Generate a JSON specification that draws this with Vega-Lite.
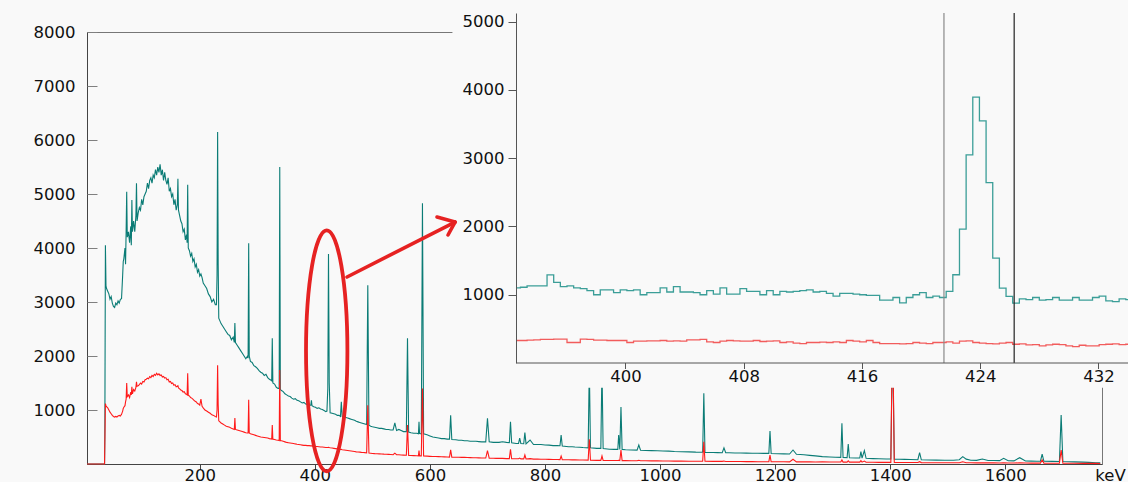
{
  "$schema": "https://vega.github.io/schema/vega-lite/v6.json",
  "width": 1015,
  "height": 432,
  "autosize": {"type": "none"},
  "padding": {"left": 87, "top": 32, "right": 26, "bottom": 18},
  "background": "#f9f9f9",
  "config": {
    "view": {"stroke": "#777777", "strokeWidth": 1},
    "axis": {"labelFont": "DejaVu Sans", "labelFontSize": 16.5, "labelColor": "#111111", "domainColor": "#555555", "tickColor": "#555555", "grid": false, "labelOverlap": false, "labelFlush": false, "format": "d"}
  },
  "datasets": {
    "main": [
      {"e":4,"t":0,"r":0},{"e":34.5,"t":0,"r":0},{"e":35,"t":500,"r":400},{"e":36,"t":4050,"r":1120},{"e":37,"t":3300,"r":1080},
      {"e":38,"t":3250,"r":1060},{"e":40,"t":3200,"r":1040},{"e":42,"t":3150,"r":1000},{"e":44,"t":3050,"r":960},{"e":46,"t":3100,"r":930},
      {"e":48,"t":2980,"r":900},{"e":50,"t":2920,"r":880},{"e":52,"t":2900,"r":870},{"e":54,"t":2980,"r":880},{"e":56,"t":2950,"r":870},
      {"e":58,"t":3020,"r":890},{"e":60,"t":2980,"r":900},{"e":62,"t":3050,"r":890},{"e":64,"t":3060,"r":920},{"e":66,"t":3500,"r":980},
      {"e":67,"t":3750,"r":1030},{"e":68,"t":3800,"r":1050},{"e":70,"t":4000,"r":1080},{"e":71,"t":3700,"r":1150},{"e":72,"t":4300,"r":1200},
      {"e":73,"t":5040,"r":1500},{"e":74,"t":4200,"r":1250},{"e":76,"t":4300,"r":1280},{"e":78,"t":4100,"r":1230},{"e":80,"t":4400,"r":1330},
      {"e":81,"t":4050,"r":1280},{"e":82,"t":4890,"r":1430},{"e":83,"t":4300,"r":1300},{"e":85,"t":4500,"r":1380},{"e":87,"t":4300,"r":1350},
      {"e":89,"t":4600,"r":1420},{"e":90,"t":5200,"r":1520},{"e":91,"t":4500,"r":1440},{"e":93,"t":4650,"r":1450},{"e":95,"t":4750,"r":1470},
      {"e":97,"t":4700,"r":1500},{"e":99,"t":4900,"r":1480},{"e":101,"t":4800,"r":1530},{"e":103,"t":4950,"r":1520},{"e":105,"t":5000,"r":1560},
      {"e":107,"t":5050,"r":1570},{"e":109,"t":5200,"r":1590},{"e":111,"t":5100,"r":1580},{"e":113,"t":5250,"r":1620},{"e":115,"t":5300,"r":1600},
      {"e":117,"t":5200,"r":1640},{"e":119,"t":5350,"r":1620},{"e":121,"t":5300,"r":1660},{"e":123,"t":5450,"r":1640},{"e":125,"t":5350,"r":1680},
      {"e":127,"t":5500,"r":1650},{"e":129,"t":5400,"r":1670},{"e":131,"t":5550,"r":1640},{"e":133,"t":5350,"r":1650},{"e":135,"t":5450,"r":1610},
      {"e":137,"t":5250,"r":1620},{"e":139,"t":5400,"r":1590},{"e":141,"t":5250,"r":1600},{"e":143,"t":5180,"r":1560},{"e":145,"t":5300,"r":1570},
      {"e":147,"t":5050,"r":1520},{"e":149,"t":5100,"r":1530},{"e":151,"t":4950,"r":1490},{"e":153,"t":5000,"r":1500},{"e":155,"t":4800,"r":1460},
      {"e":157,"t":4900,"r":1470},{"e":159,"t":4700,"r":1430},{"e":161,"t":4800,"r":1440},{"e":162,"t":5280,"r":1450},{"e":163,"t":4700,"r":1410},
      {"e":165,"t":4600,"r":1390},{"e":167,"t":4500,"r":1370},{"e":169,"t":4450,"r":1360},{"e":171,"t":4300,"r":1330},{"e":173,"t":4350,"r":1340},
      {"e":175,"t":4150,"r":1300},{"e":177,"t":4250,"r":1290},{"e":178,"t":4100,"r":1280},{"e":179,"t":5170,"r":1680},{"e":180,"t":4000,"r":1270},
      {"e":182,"t":3950,"r":1260},{"e":184,"t":3850,"r":1230},{"e":186,"t":3900,"r":1220},{"e":188,"t":3750,"r":1200},{"e":190,"t":3800,"r":1180},
      {"e":192,"t":3650,"r":1160},{"e":194,"t":3700,"r":1150},{"e":196,"t":3550,"r":1120},{"e":198,"t":3600,"r":1110},{"e":200,"t":3480,"r":1090},
      {"e":202,"t":3520,"r":1200},{"e":204,"t":3450,"r":1070},{"e":206,"t":3350,"r":1040},{"e":209,"t":3300,"r":1000},{"e":212,"t":3250,"r":980},
      {"e":215,"t":3150,"r":960},{"e":218,"t":3100,"r":940},{"e":221,"t":3000,"r":910},{"e":224,"t":3050,"r":900},{"e":227,"t":2950,"r":880},
      {"e":229,"t":2950,"r":870},{"e":230,"t":3500,"r":1000},{"e":231,"t":6150,"r":1830},{"e":232,"t":3700,"r":1100},{"e":233,"t":2700,"r":800},
      {"e":235,"t":2650,"r":780},{"e":237,"t":2600,"r":760},{"e":240,"t":2550,"r":740},{"e":243,"t":2500,"r":720},{"e":246,"t":2450,"r":700},
      {"e":249,"t":2400,"r":690},{"e":252,"t":2380,"r":680},{"e":255,"t":2300,"r":660},{"e":258,"t":2350,"r":650},{"e":260,"t":2250,"r":640},
      {"e":261,"t":2610,"r":850},{"e":262,"t":2250,"r":640},{"e":265,"t":2200,"r":630},{"e":268,"t":2150,"r":620},{"e":271,"t":2100,"r":610},
      {"e":274,"t":2050,"r":600},{"e":277,"t":2000,"r":590},{"e":280,"t":1950,"r":580},{"e":283,"t":2000,"r":575},{"e":284,"t":1960,"r":575},
      {"e":285,"t":4090,"r":1190},{"e":286,"t":2000,"r":575},{"e":288,"t":1900,"r":560},{"e":291,"t":1880,"r":550},{"e":294,"t":1820,"r":540},
      {"e":297,"t":1800,"r":530},{"e":300,"t":1770,"r":520},{"e":303,"t":1730,"r":510},{"e":306,"t":1700,"r":500},{"e":309,"t":1680,"r":495},
      {"e":312,"t":1640,"r":490},{"e":315,"t":1660,"r":485},{"e":318,"t":1600,"r":480},{"e":321,"t":1570,"r":470},{"e":324,"t":1550,"r":465},
      {"e":325,"t":1540,"r":462},{"e":326,"t":2330,"r":720},{"e":327,"t":1500,"r":460},{"e":330,"t":1480,"r":455},{"e":333,"t":1420,"r":445},
      {"e":336,"t":1400,"r":440},{"e":338,"t":1400,"r":435},{"e":339,"t":5500,"r":1740},{"e":340,"t":1380,"r":432},{"e":342,"t":1360,"r":430},
      {"e":345,"t":1340,"r":420},{"e":348,"t":1300,"r":410},{"e":351,"t":1280,"r":400},{"e":354,"t":1260,"r":395},{"e":357,"t":1250,"r":390},
      {"e":360,"t":1220,"r":385},{"e":363,"t":1200,"r":380},{"e":366,"t":1210,"r":372},{"e":369,"t":1180,"r":365},{"e":372,"t":1170,"r":360},
      {"e":375,"t":1150,"r":355},{"e":378,"t":1130,"r":350},{"e":381,"t":1140,"r":345},{"e":384,"t":1110,"r":345},{"e":387,"t":1100,"r":340},
      {"e":390,"t":1080,"r":340},{"e":393,"t":1090,"r":335},{"e":394,"t":1180,"r":335},{"e":395,"t":1080,"r":335},{"e":398,"t":1060,"r":330},
      {"e":401,"t":1050,"r":325},{"e":404,"t":1030,"r":325},{"e":407,"t":1040,"r":320},{"e":410,"t":1020,"r":315},{"e":413,"t":1010,"r":315},
      {"e":416,"t":990,"r":310},{"e":419,"t":970,"r":305},{"e":421,"t":980,"r":305},{"e":422.5,"t":1400,"r":305},{"e":423.7,"t":3890,"r":310},
      {"e":425,"t":1500,"r":305},{"e":426.5,"t":950,"r":300},{"e":430,"t":940,"r":295},{"e":433,"t":930,"r":290},{"e":436,"t":920,"r":285},
      {"e":439,"t":900,"r":280},{"e":442,"t":900,"r":275},{"e":444.5,"t":880,"r":270},{"e":446,"t":1150,"r":270},{"e":447.5,"t":880,"r":265},
      {"e":451,"t":870,"r":260},{"e":454,"t":860,"r":255},{"e":457,"t":850,"r":250},{"e":460,"t":840,"r":245},{"e":463,"t":830,"r":240},
      {"e":466,"t":820,"r":235},{"e":469,"t":810,"r":230},{"e":472,"t":790,"r":225},{"e":475,"t":780,"r":222},{"e":478,"t":770,"r":220},
      {"e":481,"t":760,"r":215},{"e":484,"t":750,"r":212},{"e":487,"t":740,"r":210},{"e":490,"t":730,"r":205},{"e":492,"t":3310,"r":1090},
      {"e":494,"t":720,"r":205},{"e":497,"t":700,"r":200},{"e":500,"t":690,"r":195},{"e":504,"t":680,"r":192},{"e":508,"t":670,"r":190},
      {"e":512,"t":660,"r":188},{"e":516,"t":660,"r":185},{"e":520,"t":650,"r":182},{"e":524,"t":640,"r":180},{"e":528,"t":640,"r":178},
      {"e":532,"t":630,"r":175},{"e":536,"t":630,"r":172},{"e":539,"t":760,"r":200},{"e":542,"t":620,"r":172},{"e":546,"t":640,"r":170},
      {"e":550,"t":620,"r":168},{"e":554,"t":600,"r":165},{"e":559,"t":600,"r":162},{"e":561,"t":2330,"r":720},{"e":563,"t":590,"r":160},
      {"e":567,"t":580,"r":158},{"e":572,"t":570,"r":155},{"e":577,"t":570,"r":152},{"e":580,"t":560,"r":150},{"e":581,"t":780,"r":250},
      {"e":582,"t":565,"r":150},{"e":585,"t":560,"r":150},{"e":587,"t":4830,"r":1400},{"e":589,"t":560,"r":148},{"e":595,"t":540,"r":145},
      {"e":600,"t":520,"r":142},{"e":605,"t":500,"r":140},{"e":610,"t":490,"r":138},{"e":615,"t":480,"r":136},{"e":620,"t":470,"r":134},
      {"e":625,"t":470,"r":132},{"e":630,"t":460,"r":130},{"e":634,"t":460,"r":128},{"e":636,"t":900,"r":260},{"e":638,"t":455,"r":128},
      {"e":645,"t":450,"r":126},{"e":650,"t":440,"r":124},{"e":655,"t":440,"r":123},{"e":660,"t":430,"r":122},{"e":665,"t":430,"r":120},
      {"e":670,"t":420,"r":118},{"e":675,"t":420,"r":116},{"e":680,"t":420,"r":115},{"e":685,"t":415,"r":113},{"e":690,"t":410,"r":112},
      {"e":697,"t":410,"r":110},{"e":700,"t":846,"r":246},{"e":703,"t":410,"r":108},{"e":710,"t":400,"r":106},{"e":715,"t":400,"r":105},
      {"e":720,"t":400,"r":104},{"e":726,"t":413,"r":105},{"e":733,"t":400,"r":100},{"e":738,"t":395,"r":99},{"e":740,"t":783,"r":272},
      {"e":742,"t":392,"r":98},{"e":750,"t":380,"r":96},{"e":754,"t":380,"r":96},{"e":756,"t":480,"r":110},{"e":758,"t":380,"r":95},
      {"e":763,"t":375,"r":94},{"e":765,"t":580,"r":167},{"e":767,"t":372,"r":93},{"e":774,"t":444,"r":100},{"e":780,"t":360,"r":90},
      {"e":787,"t":360,"r":90},{"e":793,"t":360,"r":88},{"e":800,"t":352,"r":87},{"e":807,"t":350,"r":85},{"e":814,"t":340,"r":84},
      {"e":821,"t":340,"r":83},{"e":826,"t":338,"r":82},{"e":828,"t":537,"r":148},{"e":830,"t":332,"r":81},{"e":841,"t":320,"r":78},
      {"e":847,"t":320,"r":77},{"e":852,"t":315,"r":76},{"e":860,"t":310,"r":75},{"e":866,"t":305,"r":74},{"e":875,"t":300,"r":72},
      {"e":877,"t":1800,"r":457},{"e":879,"t":300,"r":70},{"e":890,"t":290,"r":68},{"e":897,"t":290,"r":68},{"e":899,"t":1800,"r":148},
      {"e":901,"t":285,"r":66},{"e":912,"t":272,"r":65},{"e":920,"t":270,"r":64},{"e":926.5,"t":270,"r":64},{"e":928,"t":537,"r":70},
      {"e":930,"t":270,"r":64},{"e":932,"t":1055,"r":259},{"e":934,"t":270,"r":63},{"e":940,"t":265,"r":62},{"e":950,"t":260,"r":61},
      {"e":960,"t":258,"r":60},{"e":963,"t":352,"r":70},{"e":966,"t":255,"r":60},{"e":975,"t":250,"r":60},{"e":985,"t":247,"r":58},
      {"e":995,"t":245,"r":58},{"e":1005,"t":240,"r":56},{"e":1015,"t":238,"r":55},{"e":1025,"t":232,"r":54},{"e":1037,"t":228,"r":53},
      {"e":1050,"t":225,"r":52},{"e":1062,"t":220,"r":51},{"e":1074,"t":218,"r":50},{"e":1076,"t":1310,"r":413},{"e":1078,"t":215,"r":50},
      {"e":1092,"t":212,"r":49},{"e":1100,"t":210,"r":48},{"e":1108,"t":209,"r":48},{"e":1111,"t":300,"r":55},{"e":1114,"t":208,"r":47},
      {"e":1120,"t":208,"r":47},{"e":1130,"t":205,"r":46},{"e":1140,"t":204,"r":45},{"e":1150,"t":202,"r":44},{"e":1160,"t":200,"r":44},
      {"e":1170,"t":198,"r":43},{"e":1180,"t":196,"r":43},{"e":1189,"t":196,"r":43},{"e":1191,"t":611,"r":167},{"e":1193,"t":195,"r":42},
      {"e":1205,"t":190,"r":42},{"e":1215,"t":188,"r":41},{"e":1225,"t":185,"r":40},{"e":1231,"t":259,"r":87},{"e":1237,"t":180,"r":40},
      {"e":1250,"t":170,"r":40},{"e":1260,"t":160,"r":39},{"e":1270,"t":150,"r":38},{"e":1282,"t":136,"r":43},{"e":1295,"t":130,"r":37},
      {"e":1305,"t":125,"r":36},{"e":1314,"t":122,"r":36},{"e":1316,"t":753,"r":74},{"e":1318,"t":120,"r":35},{"e":1325,"t":118,"r":35},
      {"e":1327,"t":370,"r":60},{"e":1329,"t":115,"r":35},{"e":1340,"t":110,"r":34},{"e":1347,"t":110,"r":34},{"e":1349,"t":228,"r":61},
      {"e":1351,"t":110,"r":34},{"e":1355,"t":247,"r":55},{"e":1358,"t":105,"r":33},{"e":1370,"t":100,"r":32},{"e":1380,"t":96,"r":31},
      {"e":1393,"t":93,"r":30},{"e":1401,"t":92,"r":30},{"e":1403,"t":1600,"r":1800},{"e":1405,"t":1600,"r":1800},{"e":1407,"t":90,"r":30},{"e":1416,"t":87,"r":29},
      {"e":1425,"t":85,"r":28},{"e":1435,"t":82,"r":28},{"e":1448,"t":80,"r":27},{"e":1451,"t":209,"r":43},{"e":1454,"t":78,"r":26},
      {"e":1467,"t":74,"r":24},{"e":1480,"t":72,"r":24},{"e":1495,"t":70,"r":23},{"e":1510,"t":70,"r":22},{"e":1520,"t":80,"r":24},
      {"e":1526,"t":136,"r":40},{"e":1532,"t":90,"r":24},{"e":1540,"t":70,"r":22},{"e":1550,"t":68,"r":21},{"e":1560,"t":93,"r":22},
      {"e":1570,"t":65,"r":20},{"e":1580,"t":64,"r":20},{"e":1590,"t":62,"r":19},{"e":1597,"t":105,"r":22},{"e":1605,"t":60,"r":19},
      {"e":1615,"t":58,"r":18},{"e":1625,"t":117,"r":22},{"e":1635,"t":56,"r":18},{"e":1645,"t":54,"r":17},{"e":1655,"t":52,"r":17},
      {"e":1661,"t":51,"r":16},{"e":1664,"t":185,"r":74},{"e":1667,"t":50,"r":16},{"e":1682,"t":48,"r":15},{"e":1694,"t":46,"r":15},
      {"e":1697,"t":907,"r":259},{"e":1700,"t":45,"r":14},{"e":1711,"t":43,"r":14},{"e":1720,"t":40,"r":13},{"e":1735,"t":35,"r":12},
      {"e":1745,"t":30,"r":12},{"e":1757,"t":24,"r":12},{"e":1765,"t":20,"r":10}
    ],
    "inset": [
      {"k":392.6,"t":1100,"r":330},{"k":392.9,"t":1110,"r":330},{"k":393.35,"t":1130,"r":335},{"k":393.8,"t":1130,"r":340},
      {"k":394.25,"t":1130,"r":345},{"k":394.7,"t":1290,"r":345},{"k":395.15,"t":1180,"r":350},{"k":395.6,"t":1120,"r":350},
      {"k":396.05,"t":1130,"r":300},{"k":396.5,"t":1100,"r":300},{"k":396.95,"t":1090,"r":350},{"k":397.4,"t":1060,"r":345},
      {"k":397.85,"t":1000,"r":335},{"k":398.3,"t":1070,"r":335},{"k":398.75,"t":1070,"r":330},{"k":399.2,"t":1030,"r":330},
      {"k":399.65,"t":1070,"r":330},{"k":400.1,"t":1060,"r":300},{"k":400.55,"t":1070,"r":320},{"k":401.0,"t":1000,"r":320},
      {"k":401.45,"t":1030,"r":325},{"k":401.9,"t":1030,"r":325},{"k":402.35,"t":1100,"r":330},{"k":402.8,"t":1040,"r":320},
      {"k":403.25,"t":1120,"r":325},{"k":403.7,"t":1040,"r":320},{"k":404.15,"t":1040,"r":340},{"k":404.6,"t":1030,"r":340},
      {"k":405.05,"t":1000,"r":345},{"k":405.5,"t":1060,"r":310},{"k":405.95,"t":1010,"r":300},{"k":406.4,"t":1100,"r":320},
      {"k":406.85,"t":1010,"r":330},{"k":407.3,"t":1010,"r":325},{"k":407.75,"t":1090,"r":320},{"k":408.2,"t":1050,"r":320},
      {"k":408.65,"t":1050,"r":330},{"k":409.1,"t":1000,"r":315},{"k":409.55,"t":1060,"r":320},{"k":410.0,"t":1000,"r":325},
      {"k":410.45,"t":1050,"r":300},{"k":410.9,"t":1040,"r":310},{"k":411.35,"t":1050,"r":290},{"k":411.8,"t":1060,"r":285},
      {"k":412.25,"t":1070,"r":300},{"k":412.7,"t":1040,"r":300},{"k":413.15,"t":1050,"r":305},{"k":413.6,"t":1020,"r":300},
      {"k":414.05,"t":980,"r":310},{"k":414.5,"t":1020,"r":300},{"k":414.95,"t":1020,"r":330},{"k":415.4,"t":1010,"r":320},
      {"k":415.85,"t":1000,"r":310},{"k":416.3,"t":990,"r":330},{"k":416.75,"t":990,"r":300},{"k":417.2,"t":920,"r":285},
      {"k":417.65,"t":920,"r":285},{"k":418.1,"t":960,"r":285},{"k":418.55,"t":880,"r":280},{"k":419.0,"t":960,"r":285},
      {"k":419.45,"t":1000,"r":300},{"k":419.9,"t":1030,"r":290},{"k":420.35,"t":960,"r":285},{"k":420.8,"t":980,"r":300},
      {"k":421.25,"t":960,"r":300},{"k":421.7,"t":1050,"r":310},{"k":422.15,"t":1293,"r":290},{"k":422.6,"t":1962,"r":320},
      {"k":423.05,"t":3050,"r":325},{"k":423.5,"t":3894,"r":300},{"k":423.95,"t":3547,"r":290},{"k":424.4,"t":2644,"r":285},
      {"k":424.85,"t":1537,"r":280},{"k":425.3,"t":1098,"r":290},{"k":425.75,"t":975,"r":300},{"k":426.2,"t":878,"r":275},
      {"k":426.65,"t":940,"r":280},{"k":427.1,"t":930,"r":265},{"k":427.55,"t":960,"r":270},{"k":428.0,"t":920,"r":250},
      {"k":428.45,"t":930,"r":265},{"k":428.9,"t":960,"r":275},{"k":429.35,"t":920,"r":270},{"k":429.8,"t":920,"r":250},
      {"k":430.25,"t":960,"r":240},{"k":430.7,"t":920,"r":260},{"k":431.15,"t":920,"r":250},{"k":431.6,"t":960,"r":250},
      {"k":432.05,"t":980,"r":270},{"k":432.5,"t":910,"r":275},{"k":432.95,"t":900,"r":280},{"k":433.4,"t":940,"r":270},
      {"k":433.85,"t":930,"r":275},{"k":434.3,"t":930,"r":275}
    ],
    "arrow": [
      {"x1":455.9,"y1":3463,"x2":643.6,"y2":4481},
      {"x1":612.3,"y1":4574,"x2":643.6,"y2":4481},
      {"x1":631.4,"y1":4241,"x2":643.6,"y2":4481}
    ]
  },
  "resolve": {"scale": {"x": "independent", "y": "independent"}, "axis": {"x": "independent", "y": "independent"}},
  "layer": [
    {
      "data": {"name": "main"},
      "mark": {"type": "line", "color": "#0b7c76", "strokeWidth": 1.1},
      "encoding": {
        "x": {"field": "e", "type": "quantitative", "scale": {"domain": [4, 1768], "nice": false, "zero": false},
          "axis": {"orient": "bottom", "values": [200, 400, 600, 800, 1000, 1200, 1400, 1600], "tickSize": 5, "labelPadding": -2, "domainColor": "#444444", "tickColor": "#444444",
            "title": "keV", "titleX": 1023, "titleY": 3, "titleAlign": "center", "titleBaseline": "top", "titleFont": "DejaVu Sans", "titleFontSize": 16.5, "titleFontWeight": "normal", "titleColor": "#111111"}},
        "y": {"field": "t", "type": "quantitative", "scale": {"domain": [0, 8000], "nice": false},
          "axis": {"orient": "left", "values": [1000, 2000, 3000, 4000, 5000, 6000, 7000, 8000], "ticks": false, "labelPadding": 12, "title": null, "domainColor": "#444444"}}
      }
    },
    {
      "data": {"name": "main"},
      "mark": {"type": "line", "color": "#ff1a1a", "strokeWidth": 1.1},
      "encoding": {
        "x": {"field": "e", "type": "quantitative", "scale": {"domain": [4, 1768], "nice": false, "zero": false}, "axis": null},
        "y": {"field": "r", "type": "quantitative", "scale": {"domain": [0, 8000], "nice": false},
          "axis": {"orient": "right", "offset": -1015, "values": [1000, 2000, 3000, 4000, 5000, 6000, 7000, 8000], "labels": false, "domain": false, "ticks": true, "tickSize": 10, "tickColor": "#808080", "title": null}}
      }
    },
    {
      "data": {"values": [{}]},
      "mark": {"type": "rect", "fill": "#f9f9f9"},
      "encoding": {
        "x": {"datum": 388.3, "type": "quantitative", "scale": {"domain": [392.6, 434], "range": [429, 1041], "nice": false, "zero": false}, "axis": null},
        "x2": {"datum": 437},
        "y": {"datum": -362, "type": "quantitative", "scale": {"domain": [0, 5128], "range": [331, -19], "nice": false, "zero": false}, "axis": null},
        "y2": {"datum": 5128}
      }
    },
    {
      "data": {"name": "inset"},
      "mark": {"type": "line", "interpolate": "step-after", "color": "#3b9e98", "strokeWidth": 1.3},
      "encoding": {
        "x": {"field": "k", "type": "quantitative", "scale": {"domain": [392.6, 434], "range": [429, 1041], "nice": false, "zero": false},
          "axis": {"orient": "bottom", "offset": -101.5, "values": [400, 408, 416, 424, 432], "tickSize": 6, "labelPadding": 0, "title": null, "zindex": 1, "domainColor": "#555555", "tickColor": "#555555"}},
        "y": {"field": "t", "type": "quantitative", "scale": {"domain": [0, 5128], "range": [331, -19], "nice": false, "zero": false},
          "axis": {"orient": "left", "offset": -429, "values": [1000, 2000, 3000, 4000, 5000], "tickSize": 8, "labelPadding": 4, "title": null, "zindex": 1, "domainColor": "#555555", "tickColor": "#555555"}}
      }
    },
    {
      "data": {"name": "inset"},
      "mark": {"type": "line", "interpolate": "step-after", "color": "#f25c5c", "strokeWidth": 1.3},
      "encoding": {
        "x": {"field": "k", "type": "quantitative", "scale": {"domain": [392.6, 434], "range": [429, 1041], "nice": false, "zero": false}, "axis": null},
        "y": {"field": "r", "type": "quantitative", "scale": {"domain": [0, 5128], "range": [331, -19], "nice": false, "zero": false}, "axis": null}
      }
    },
    {
      "data": {"values": [{}]},
      "mark": {"type": "rule", "color": "#8a8a8a", "strokeWidth": 1.2},
      "encoding": {
        "x": {"datum": 421.55, "type": "quantitative", "scale": {"domain": [392.6, 434], "range": [429, 1041], "nice": false, "zero": false}, "axis": null},
        "y": {"datum": 0, "type": "quantitative", "scale": {"domain": [0, 5128], "range": [331, -19], "nice": false, "zero": false}, "axis": null},
        "y2": {"datum": 5128}
      }
    },
    {
      "data": {"values": [{}]},
      "mark": {"type": "rule", "color": "#222222", "strokeWidth": 1.2},
      "encoding": {
        "x": {"datum": 426.3, "type": "quantitative", "scale": {"domain": [392.6, 434], "range": [429, 1041], "nice": false, "zero": false}, "axis": null},
        "y": {"datum": 0, "type": "quantitative", "scale": {"domain": [0, 5128], "range": [331, -19], "nice": false, "zero": false}, "axis": null},
        "y2": {"datum": 5128}
      }
    },
    {
      "data": {"values": [{"e": 420.6, "c": 2096}]},
      "mark": {"type": "point", "shape": "M0,-1C0.0949,-1,0.1718,-0.5523,0.1718,0C0.1718,0.5523,0.0949,1,0,1C-0.0949,1,-0.1718,0.5523,-0.1718,0C-0.1718,-0.5523,-0.0949,-1,0,-1Z", "size": 58081, "filled": false, "stroke": "#e62222", "strokeWidth": 3.8, "opacity": 1},
      "encoding": {
        "x": {"field": "e", "type": "quantitative", "scale": {"domain": [4, 1768], "nice": false, "zero": false}, "axis": null},
        "y": {"field": "c", "type": "quantitative", "scale": {"domain": [0, 8000], "nice": false}, "axis": null}
      }
    },
    {
      "data": {"name": "arrow"},
      "mark": {"type": "rule", "color": "#e62222", "strokeWidth": 3.6, "strokeCap": "round"},
      "encoding": {
        "x": {"field": "x1", "type": "quantitative", "scale": {"domain": [4, 1768], "nice": false, "zero": false}, "axis": null},
        "y": {"field": "y1", "type": "quantitative", "scale": {"domain": [0, 8000], "nice": false}, "axis": null},
        "x2": {"field": "x2"},
        "y2": {"field": "y2"}
      }
    }
  ]
}
